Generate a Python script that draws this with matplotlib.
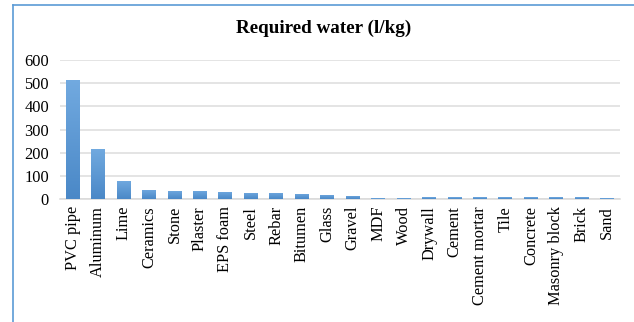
import matplotlib.pyplot as plt
import numpy as np
from matplotlib.colors import LinearSegmentedColormap
from matplotlib.lines import Line2D

materials = ["PVC pipe", "Aluminum", "Lime", "Ceramics", "Stone", "Plaster",
             "EPS foam", "Steel", "Rebar", "Bitumen", "Glass", "Gravel", "MDF",
             "Wood", "Drywall", "Cement", "Cement mortar", "Tile", "Concrete",
             "Masonry block", "Brick", "Sand"]
water = [514, 216, 78, 39, 35, 35, 31, 27, 27, 22, 18, 13, 4,
         4, 8, 8, 8, 8, 8, 8, 8, 4]
yticks = [0, 100, 200, 300, 400, 500, 600]

plt.rcParams["font.family"] = ["Liberation Serif", "DejaVu Serif"]

fig = plt.figure(figsize=(6.34, 3.22), dpi=100)
ax = fig.add_axes([60 / 634, 123 / 322, 560 / 634, 139 / 322])

x = np.arange(len(materials))
bars = ax.bar(x, water, width=0.55, color="#5b9bd5", zorder=2)

# vertical gradient inside each bar
grad = LinearSegmentedColormap.from_list("g", ["#4a88c7", "#72aae0"])
gimg = np.linspace(0, 1, 256).reshape(-1, 1)
for b in bars:
    x0, y0 = b.get_x(), b.get_y()
    w, h = b.get_width(), b.get_height()
    im = ax.imshow(gimg, cmap=grad, origin="lower", aspect="auto",
                   extent=(x0, x0 + w, y0, y0 + h), zorder=3)
    im.set_clip_path(b)

ax.set_xlim(-0.5, len(materials) - 0.5)
ax.set_ylim(0, 600)
ax.set_yticks(yticks)
ax.set_xticks(x)
ax.set_xticklabels(materials, rotation=90, fontsize=11.8)
ax.tick_params(axis="y", labelsize=11.8, length=0, pad=8)
ax.tick_params(axis="x", length=0, pad=5)
ax.grid(axis="y", color="#dcdcdc", linewidth=1.1, zorder=0)
for s in ["top", "right", "left"]:
    ax.spines[s].set_visible(False)
ax.spines["bottom"].set_color("#d9d9d9")
ax.spines["bottom"].set_linewidth(1.1)

fig.text(324 / 634, 1 - 28 / 322, "Required water (l/kg)", ha="center",
         va="center", fontsize=13.8, fontweight="bold")

# chart frame
fc = "#5b9bd5"
fig.add_artist(Line2D([13 / 634, 13 / 634], [0, 1 - 5 / 322], color=fc,
                      linewidth=1.2, transform=fig.transFigure))
fig.add_artist(Line2D([13 / 634, 1], [1 - 5 / 322, 1 - 5 / 322], color=fc,
                      linewidth=1.2, transform=fig.transFigure))

fig.savefig("out.png", dpi=100)
